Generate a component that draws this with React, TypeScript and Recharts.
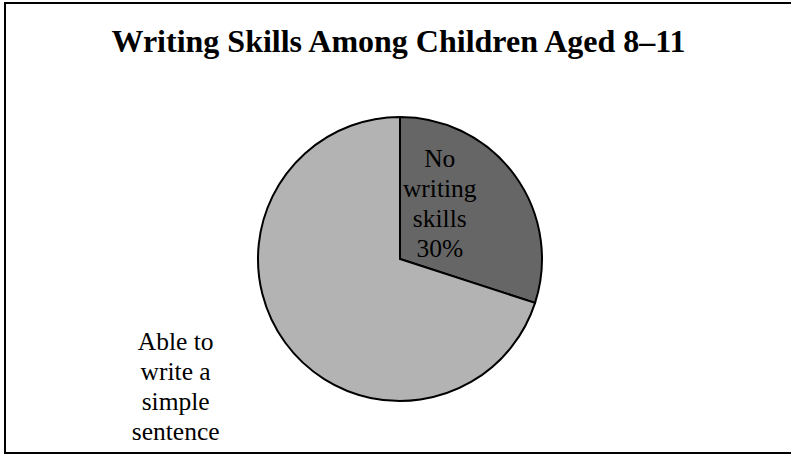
import { Cell, Pie, PieChart } from 'recharts';

const categories = ['No writing skills', 'Able to write a simple sentence'];
const shares = [30, 70];
const labelLines = [
  ['No', 'writing', 'skills', '30%'],
  ['Able to', 'write a', 'simple', 'sentence'],
];
const sliceColors = ['#666666', '#b3b3b3'];

const data = categories.map((name, i) => ({ name, value: shares[i] }));

const serif = '"Liberation Serif", "Times New Roman", serif';

// label anchor offsets, as fractions of the radius from the pie centre
const labelAnchor = [
  { dx: 0.28, dy: -0.65 },
  { dx: -1.58, dy: 0.64 },
];

function SliceLabel(props: any) {
  const { cx, cy, outerRadius, index } = props;
  const a = labelAnchor[index];
  const x = cx + a.dx * outerRadius;
  const y = cy + a.dy * outerRadius;
  return (
    <text
      x={x}
      y={y}
      textAnchor="middle"
      fill="#000"
      fontFamily={serif}
      fontSize={25.5}
    >
      {labelLines[index].map((line, i) => (
        <tspan key={i} x={x} dy={i === 0 ? 0 : 30}>
          {line}
        </tspan>
      ))}
    </text>
  );
}

export default function App() {
  return (
    <div style={{ position: 'absolute', left: 0, top: 0, width: 791, height: 455, overflow: 'hidden', background: '#fff' }}>
      <div
        style={{
          position: 'absolute',
          left: 4,
          top: 2,
          width: 800,
          height: 452,
          border: '2px solid #000',
          boxSizing: 'border-box',
        }}
      />
      <div
        style={{
          position: 'absolute',
          left: 0,
          top: 23,
          width: 797,
          textAlign: 'center',
          fontFamily: serif,
          fontWeight: 'bold',
          fontSize: 32,
          lineHeight: '36px',
        }}
      >
        Writing Skills Among Children Aged 8–11
      </div>
      <div style={{ position: 'absolute', left: 0, top: 0 }}>
        <PieChart width={791} height={455} margin={{ top: 0, right: 0, bottom: 0, left: 0 }}>
          <Pie
            data={data}
            dataKey="value"
            nameKey="name"
            cx={400}
            cy={259}
            outerRadius={142}
            startAngle={90}
            endAngle={-270}
            stroke="#000"
            strokeWidth={2}
            label={SliceLabel}
            labelLine={false}
            isAnimationActive={false}
          >
            {data.map((d, i) => (
              <Cell key={d.name} fill={sliceColors[i]} />
            ))}
          </Pie>
        </PieChart>
      </div>
    </div>
  );
}
